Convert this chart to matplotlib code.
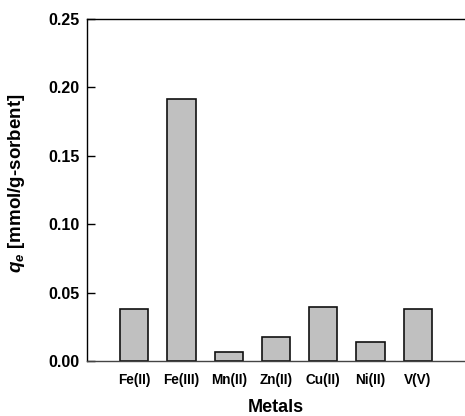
import numpy as np
import matplotlib
matplotlib.use('Agg')
import matplotlib.pyplot as plt

plt.rcParams['font.family'] = ['Liberation Sans', 'DejaVu Sans']
plt.rcParams['mathtext.fontset'] = 'custom'
plt.rcParams['mathtext.it'] = 'Liberation Sans:bold:italic'
plt.rcParams['mathtext.rm'] = 'Liberation Sans:bold'

metals = ['Fe(II)', 'Fe(III)', 'Mn(II)', 'Zn(II)', 'Cu(II)', 'Ni(II)', 'V(V)']
qe = [0.0382, 0.1917, 0.0066, 0.0173, 0.0392, 0.0139, 0.0378]
yticks = [0.00, 0.05, 0.10, 0.15, 0.20, 0.25]

fig = plt.figure(figsize=(4.65, 4.16), dpi=100)
ax = fig.add_axes([87/465, 55/416, 1 - 87/465, 342/416])

x = np.arange(1, len(metals) + 1)
ax.bar(x, qe, width=0.6, color='#c0c0c0', edgecolor='#111111', linewidth=1.2)

ax.set_xlim(0, 8)
ax.set_ylim(0, 0.25)
ax.set_xticks(x)
ax.set_xticklabels(metals, fontsize=9.8, fontweight='bold')
ax.tick_params(axis='x', length=0, pad=8.5)
ax.set_yticks(yticks)
ax.set_yticklabels(['%.2f' % v for v in yticks], fontsize=11.5, fontweight='bold')
ax.tick_params(axis='y', direction='in', length=6, width=1, pad=5.5)

for s in ['left', 'top', 'bottom']:
    ax.spines[s].set_linewidth(1.0)
ax.spines['bottom'].set_color('#444444')
ax.spines['right'].set_visible(False)

ax.set_xlabel('Metals', fontsize=13, fontweight='bold', labelpad=9)
ax.set_ylabel(r'$q_e$ [mmol/g-sorbent]', fontsize=13.5, fontweight='bold')
ax.yaxis.set_label_coords(-0.16, 0.52)

fig.savefig('out.png', dpi=100)
